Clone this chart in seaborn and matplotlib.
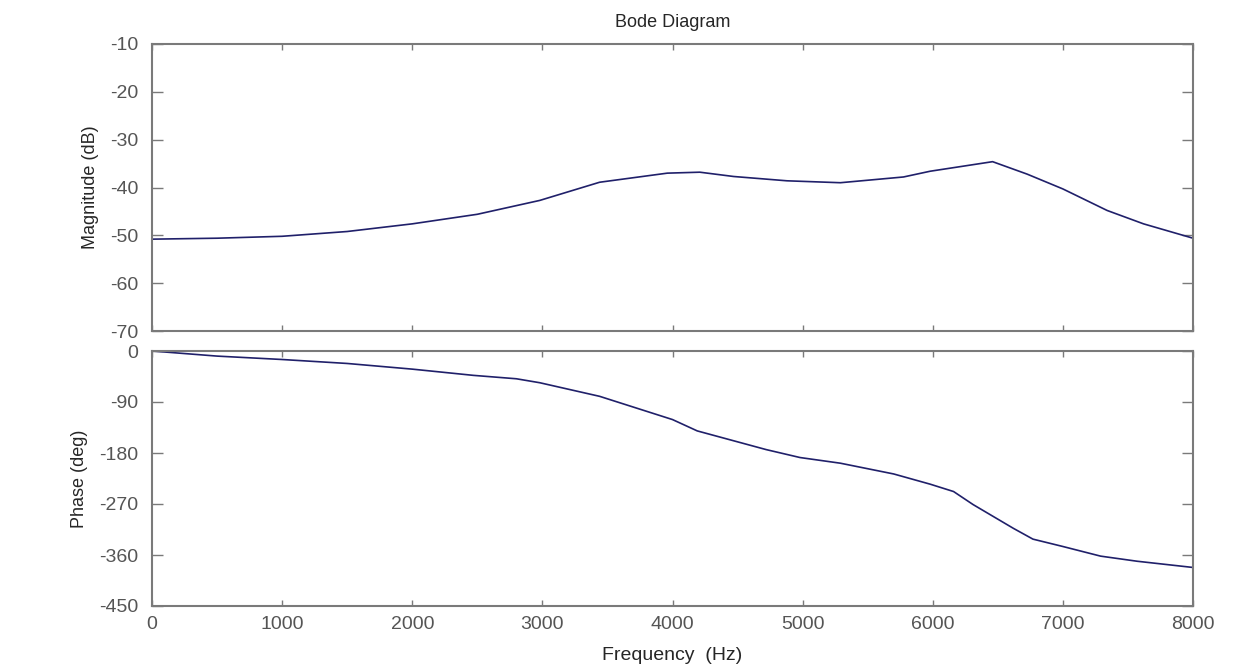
import numpy as np
import pandas as pd
import matplotlib
matplotlib.use("Agg")
import matplotlib.pyplot as plt
import seaborn as sns

# magnitude curve (Hz, dB)
mag_freq = [0, 500, 1000, 1500, 2000, 2500, 2980, 3440, 3960, 4210, 4470,
            4880, 5290, 5775, 5980, 6460, 6725, 7000, 7340, 7620, 8000]
mag_db = [-50.8, -50.6, -50.2, -49.2, -47.6, -45.6, -42.7, -38.9, -37.0, -36.8, -37.7,
          -38.6, -39.0, -37.8, -36.6, -34.6, -37.2, -40.3, -44.8, -47.6, -50.6]

# phase curve (Hz, deg)
ph_freq = [0, 500, 1000, 1500, 2000, 2470, 2800, 2980, 3440, 4000, 4190, 4720,
           4980, 5290, 5700, 5980, 6160, 6310, 6620, 6770, 7000, 7290, 7570, 8000]
ph_deg = [0, -9, -15, -22, -32, -43, -49, -56, -80, -121, -141, -174,
          -188, -198, -217, -235, -248, -271, -313, -332, -345, -362, -371, -382]

mag_df = pd.DataFrame({"Frequency": mag_freq, "Magnitude": mag_db})
ph_df = pd.DataFrame({"Frequency": ph_freq, "Phase": ph_deg})

sns.set_style("ticks")
plt.rcParams["font.family"] = ["Liberation Sans", "DejaVu Sans"]
plt.rcParams["axes.unicode_minus"] = False

line_col = "#20206a"
spine_col = "#7a7a7a"
tick_col = "#555555"

fig = plt.figure(figsize=(12.43, 6.68), dpi=100)
ax1 = fig.add_axes([152 / 1243, 1 - 331 / 668, 1041 / 1243, 287 / 668])
ax2 = fig.add_axes([152 / 1243, 1 - 606 / 668, 1041 / 1243, 255 / 668])

sns.lineplot(data=mag_df, x="Frequency", y="Magnitude", ax=ax1, color=line_col, linewidth=1.2)
sns.lineplot(data=ph_df, x="Frequency", y="Phase", ax=ax2, color=line_col, linewidth=1.2)

for ax in (ax1, ax2):
    ax.set_xlim(0, 8000)
    ax.set_xticks(range(0, 8001, 1000))
    for s in ax.spines.values():
        s.set_visible(True)
        s.set_color(spine_col)
        s.set_linewidth(1.5)
    ax.tick_params(axis="y", direction="in", length=8, width=1, color=spine_col,
                   left=True, right=True, labelsize=14, labelcolor=tick_col, pad=10)
    ax.tick_params(axis="x", direction="in", length=4, width=1, color=spine_col,
                   top=True, bottom=True, labelsize=14, labelcolor=tick_col, pad=7)

ax1.set_ylim(-70, -10)
ax1.set_yticks(range(-70, -9, 10))
ax1.tick_params(axis="x", labelbottom=False)
ax1.set_xlabel("")
ax1.set_ylabel("Magnitude (dB)", fontsize=13, labelpad=8)
ax1.set_title("Bode Diagram", fontsize=13, pad=12)

ax2.set_ylim(-450, 0)
ax2.set_yticks(range(-450, 1, 90))
ax2.set_ylabel("Phase (deg)", fontsize=13, labelpad=8)
ax2.set_xlabel("Frequency  (Hz)", fontsize=14, labelpad=10)

fig.savefig("out.png", dpi=100)
